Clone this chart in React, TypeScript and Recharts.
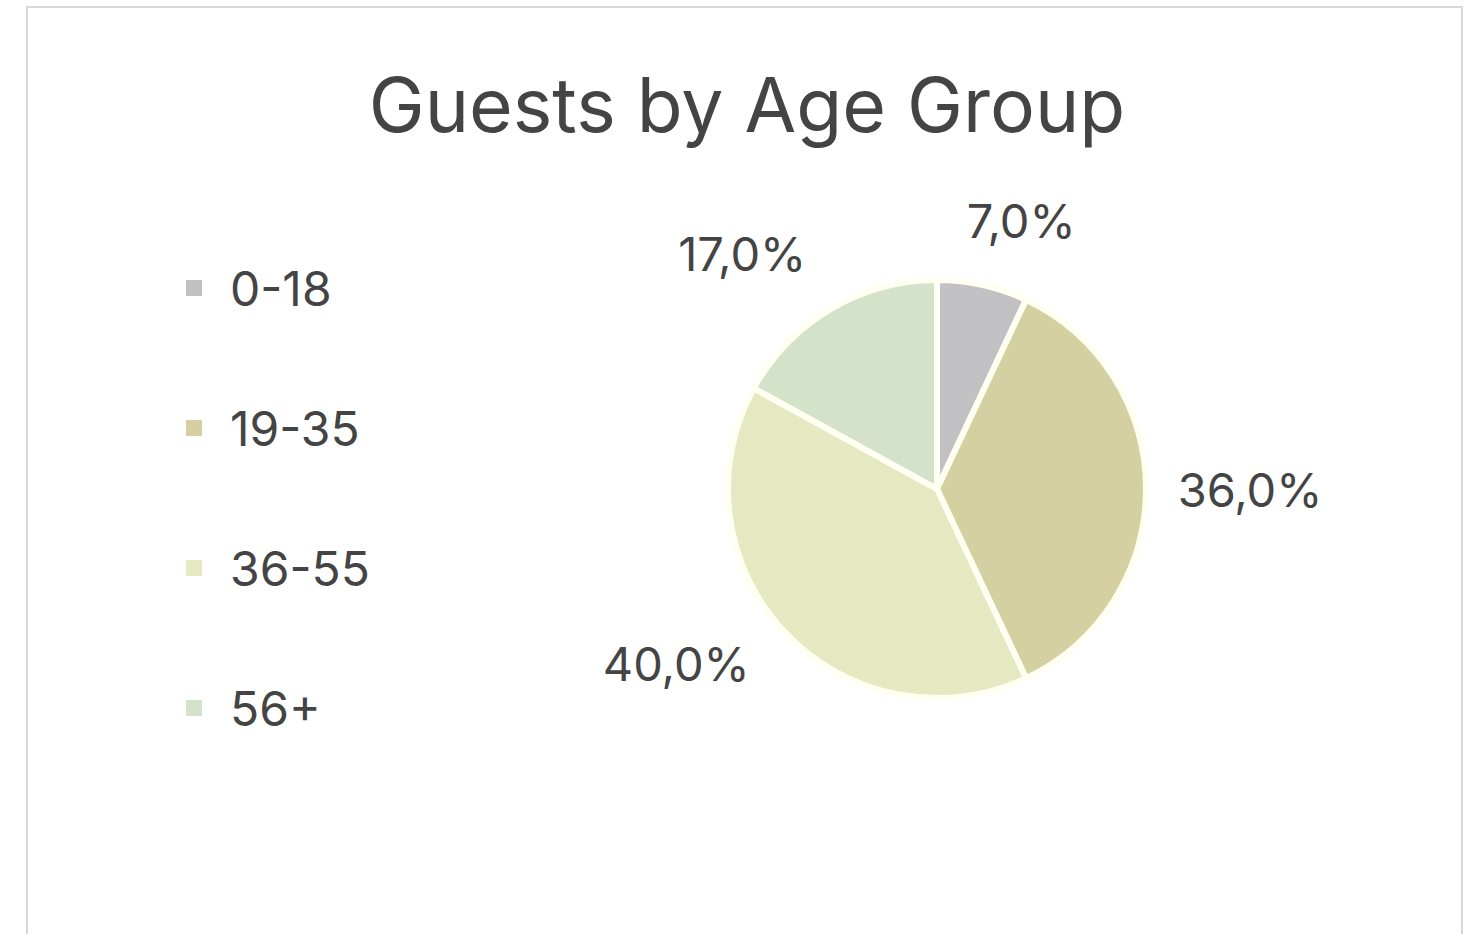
import { PieChart, Pie, Cell, Legend } from 'recharts';

const AGE_GROUPS = ['0-18', '19-35', '36-55', '56+'];
const SHARES = [7, 36, 40, 17];
const SLICE_COLORS = ['#c1c0c3', '#d4d0a1', '#e5e9c1', '#d3e2c8'];

const TEXT = '#444444';
const FONT = 'Inter, "Open Sans", sans-serif';

const data = AGE_GROUPS.map((name, i) => ({ name, value: SHARES[i] }));

const RAD = Math.PI / 180;

// outside-end labels, spread a little sideways like Excel's best fit
function renderLabel({ cx, cy, midAngle, outerRadius, value }: any) {
  const text = `${value.toFixed(1).replace('.', ',')}%`;
  const w = text.length * 28;
  const h = 46;
  const a = Math.atan2(Math.sin(midAngle * RAD), Math.cos(midAngle * RAD) * 1.4);
  const cos = Math.cos(a);
  const sin = -Math.sin(a);
  const dist = outerRadius + 34 + (Math.abs(cos) * w) / 2 + (Math.abs(sin) * h) / 2;
  return (
    <text
      x={cx + dist * cos}
      y={cy + dist * sin}
      fill={TEXT}
      fontSize={47}
      fontFamily={FONT}
      textAnchor="middle"
      dominantBaseline="central"
    >
      {text}
    </text>
  );
}

function LegendList({ payload }: any) {
  return (
    <div>
      {(payload || []).map((item: any) => (
        <div
          key={item.value}
          style={{ display: 'flex', alignItems: 'center', height: 140, fontFamily: FONT, fontSize: 48, color: TEXT }}
        >
          <span style={{ width: 16, height: 16, background: item.color, marginRight: 28, display: 'inline-block' }} />
          {item.value}
        </div>
      ))}
    </div>
  );
}

export default function App() {
  return (
    <div style={{ position: 'fixed', left: 0, top: 0, width: 1468, height: 934, background: '#fff' }}>
      <div
        style={{
          position: 'absolute',
          left: 26,
          top: 6,
          width: 1437,
          height: 940,
          border: '2px solid #d9d9d9',
          boxSizing: 'border-box',
        }}
      />
      <div
        style={{
          position: 'absolute',
          left: 0,
          top: 58,
          width: 1494,
          textAlign: 'center',
          fontFamily: FONT,
          fontSize: 75,
          color: TEXT,
          lineHeight: '94px',
        }}
      >
        Guests by Age Group
      </div>
      <div style={{ position: 'absolute', left: 0, top: 0 }}>
        <PieChart width={1468} height={934}>
          <Legend
            layout="vertical"
            align="center"
            verticalAlign="middle"
            wrapperStyle={{ left: 186, top: 218, width: 300 }}
            content={<LegendList />}
          />
          <Pie
            data={data}
            dataKey="value"
            nameKey="name"
            cx={932}
            cy={484}
            outerRadius={209}
            startAngle={90}
            endAngle={-270}
            stroke="#fffff2"
            strokeWidth={6}
            label={renderLabel}
            labelLine={false}
            isAnimationActive={false}
          >
            {data.map((d, i) => (
              <Cell key={d.name} fill={SLICE_COLORS[i]} />
            ))}
          </Pie>
        </PieChart>
      </div>
    </div>
  );
}
